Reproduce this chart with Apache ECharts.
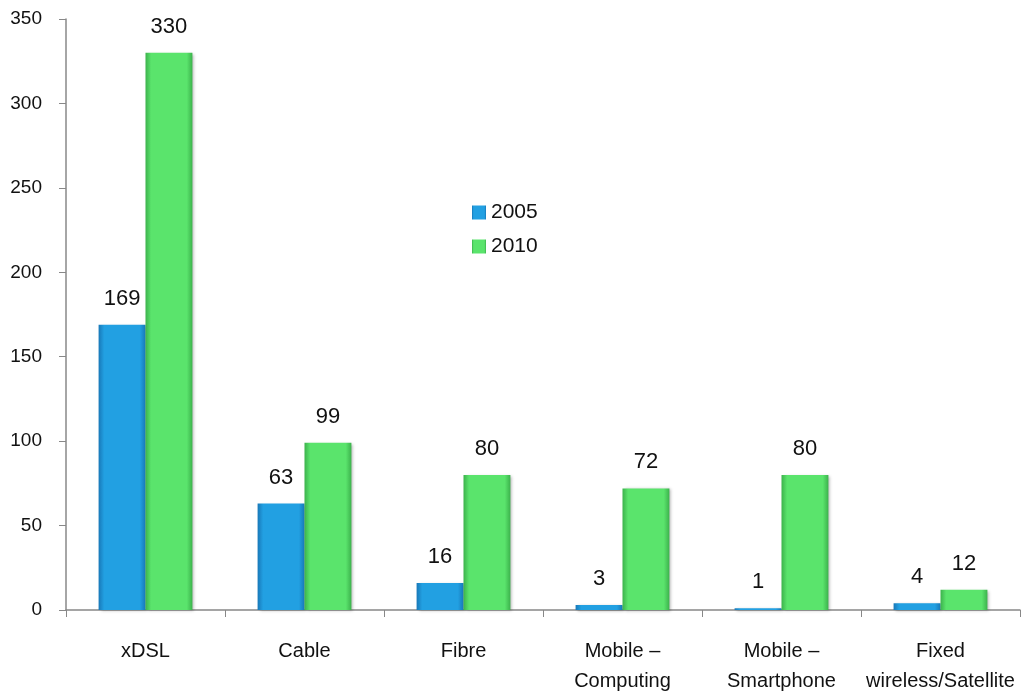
<!DOCTYPE html>
<html>
<head>
<meta charset="utf-8">
<script src="https://cdn.jsdelivr.net/npm/echarts@6/dist/echarts.min.js"></script>
<style>
  html, body { margin: 0; padding: 0; background: #fff; }
  #chart { width: 1025px; height: 693px; }
</style>
</head>
<body>
<div id="chart"></div>
<script>
// Broadband subscriptions by access technology
const categories = ['xDSL', 'Cable', 'Fibre', 'Mobile –\nComputing', 'Mobile –\nSmartphone', 'Fixed\nwireless/Satellite'];
const values2005 = [169, 63, 16, 3, 1, 4];
const values2010 = [330, 99, 80, 72, 80, 12];
const yTicks = { min: 0, max: 350, interval: 50 };

const font = "'Liberation Sans', Arial, sans-serif";

// Side-shaded fill giving the bars a bevelled look
function bevel(edge, mid) {
  return new echarts.graphic.LinearGradient(0, 0, 1, 0, [
    { offset: 0, color: edge },
    { offset: 0.12, color: mid },
    { offset: 0.88, color: mid },
    { offset: 1, color: edge }
  ]);
}

const chart = echarts.init(document.getElementById('chart'));
chart.setOption({
  animation: false,
  grid: { left: 66, right: 5, top: 19, bottom: 83, outerBoundsMode: 'none', containLabel: false },
  legend: {
    orient: 'vertical',
    left: 472,
    top: 202,
    padding: 0,
    itemWidth: 14,
    itemHeight: 14,
    itemGap: 13,
    icon: 'rect',
    textStyle: { fontFamily: font, fontSize: 21, color: '#111', padding: [0, 0, 0, 0] },
    data: ['2005', '2010']
  },
  xAxis: {
    type: 'category',
    data: categories,
    axisLine: { lineStyle: { color: '#888', width: 1.5 } },
    axisTick: { show: true, length: 7, lineStyle: { color: '#888' } },
    axisLabel: { fontFamily: font, fontSize: 20, color: '#111', margin: 26, lineHeight: 30, interval: 0 }
  },
  yAxis: {
    type: 'value',
    min: yTicks.min,
    max: yTicks.max,
    interval: yTicks.interval,
    splitLine: { show: false },
    axisLine: { show: true, lineStyle: { color: '#888', width: 1.5 } },
    axisTick: { show: true, length: 7, lineStyle: { color: '#888' } },
    axisLabel: { fontFamily: font, fontSize: 19, color: '#111', margin: 24 }
  },
  series: [
    {
      name: '2005',
      type: 'bar',
      data: values2005,
      barGap: '0%',
      barCategoryGap: '41%',
      itemStyle: {
        color: bevel('#1878b8', '#22a0e2'),
        shadowColor: 'rgba(0,0,0,0.3)',
        shadowBlur: 3,
        shadowOffsetX: 2,
        shadowOffsetY: 1
      },
      label: { show: true, position: 'top', distance: 15, fontFamily: font, fontSize: 22, color: '#111' }
    },
    {
      name: '2010',
      type: 'bar',
      data: values2010,
      itemStyle: {
        color: bevel('#3cb24c', '#5ae46c'),
        shadowColor: 'rgba(0,0,0,0.3)',
        shadowBlur: 3,
        shadowOffsetX: 2,
        shadowOffsetY: 1
      },
      label: { show: true, position: 'top', distance: 15, fontFamily: font, fontSize: 22, color: '#111' }
    }
  ]
});
</script>
</body>
</html>
